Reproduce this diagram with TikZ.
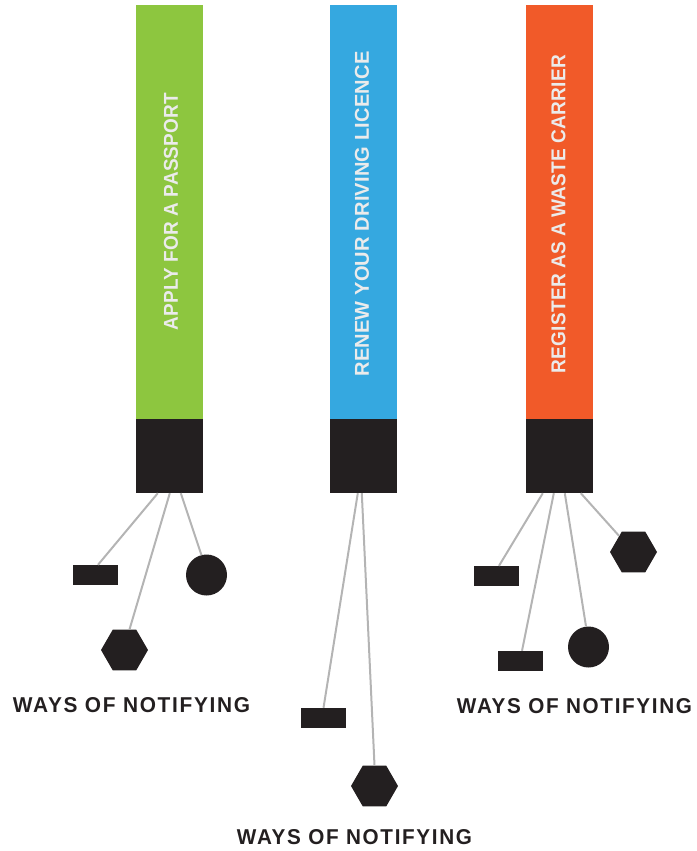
\documentclass[tikz,border=0pt]{standalone}
\usepackage{fontspec}
\usepackage{graphicx}
\setmainfont{Liberation Sans}
\newfontfamily\barfont{Liberation Sans}[LetterSpace=1]
\newfontfamily\labfont{Liberation Sans}[LetterSpace=8]
\usetikzlibrary{shapes.geometric,calc}
\definecolor{cgreen}{HTML}{8DC63F}
\definecolor{cblue}{HTML}{35A8E0}
\definecolor{corange}{HTML}{F15A29}
\definecolor{cdark}{HTML}{231F20}
\definecolor{cline}{HTML}{B4B4B4}
\newcommand\fitbox[3]{\resizebox{#1pt}{#2pt}{#3}}
\begin{document}
\begin{tikzpicture}[x=1pt,y=-1pt,
  barbox/.style={draw=none,minimum width=67pt,minimum height=414pt,inner sep=0pt,anchor=center},
  blockbox/.style={fill=cdark,minimum width=67pt,minimum height=74pt,inner sep=0pt},
  rectshape/.style={fill=cdark,minimum width=45pt,minimum height=20pt,inner sep=0pt},
  circshape/.style={circle,fill=cdark,minimum size=41pt,inner sep=0pt},
  hexshape/.style={regular polygon,regular polygon sides=6,fill=cdark,minimum size=47pt,inner sep=0pt},
  barlabel/.style={rotate=90,inner sep=0pt,text=white!92!black},
  waylabel/.style={inner sep=0pt,text=cdark},
  conn/.style={draw=cline,line width=2pt}]
\useasboundingbox (0,0) rectangle (696,851);
% bars
\node[barbox,fill=cgreen] (bar1) at (169.5,212) {};
\node[barbox,fill=cblue] (bar2) at (363.5,212) {};
\node[barbox,fill=corange] (bar3) at (559.5,212) {};
\node[blockbox] (blk1) at (169.5,456) {};
\node[blockbox] (blk2) at (363.5,456) {};
\node[blockbox] (blk3) at (559.5,456) {};
% bar texts
\node[barlabel] (t1) at (171,211.5) {\fitbox{237}{14}{\barfont\bfseries APPLY FOR A PASSPORT}};
\node[barlabel] (t2) at (362,214) {\fitbox{325}{14}{\barfont\bfseries RENEW YOUR DRIVING LICENCE}};
\node[barlabel] (t3) at (558.5,214) {\fitbox{318}{14}{\barfont\bfseries REGISTER AS A WASTE CARRIER}};
% shapes group 1
\node[rectshape] (r1) at (95.5,575) {};
\node[hexshape] (h1) at (124.5,650) {};
\node[circshape] (c1) at (206.5,575) {};
% group 2
\node[rectshape] (r2) at (323.5,718) {};
\node[hexshape] (h2) at (374.5,786) {};
% group 3
\node[rectshape] (r3) at (496.5,576) {};
\node[rectshape] (r4) at (520.5,661) {};
\node[circshape] (c3) at (588.5,647) {};
\node[hexshape] (h3) at (633.5,552) {};
% connectors
\draw[conn] ($(blk1.south west)+(22,0)$) -- ($(r1.north)+(2.5,0)$);
\draw[conn] ($(blk1.south west)+(34,0)$) -- ($(h1.north)+(5,0)$);
\draw[conn] ($(blk1.south west)+(45,0)$) -- ($(c1.north)+(-5,1)$);
\draw[conn] ($(blk2.south west)+(28,0)$) -- (r2.north);
\draw[conn] ($(blk2.south west)+(32,0)$) -- (h2.north);
\draw[conn] ($(blk3.south west)+(17,0)$) -- ($(r3.north)+(2.5,0)$);
\draw[conn] ($(blk3.south west)+(28,0)$) -- ($(r4.north)+(1.5,0)$);
\draw[conn] ($(blk3.south west)+(39,0)$) -- ($(c3.north)+(-2.5,0)$);
\draw[conn] ($(blk3.south west)+(55,0)$) -- (h3);
% labels
\node[waylabel] (w1) at (131.5,705.5) {\fitbox{237}{15}{\labfont\bfseries WAYS OF NOTIFYING}};
\node[waylabel] (w2) at (354.5,837.5) {\fitbox{235}{15}{\labfont\bfseries WAYS OF NOTIFYING}};
\node[waylabel] (w3) at (574.5,706) {\fitbox{235}{15}{\labfont\bfseries WAYS OF NOTIFYING}};
\end{tikzpicture}
\end{document}
